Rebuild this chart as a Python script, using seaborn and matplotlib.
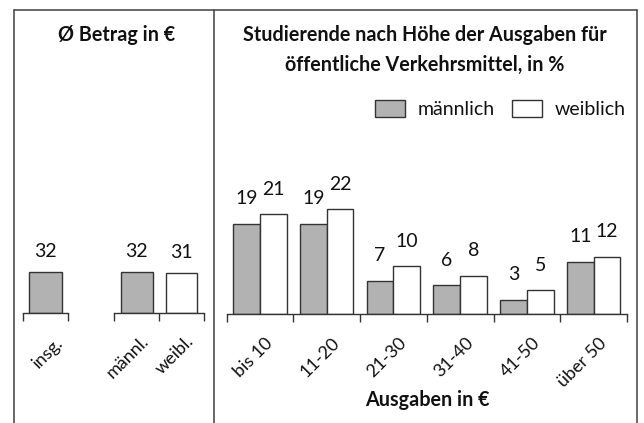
import matplotlib
matplotlib.use("Agg")
import matplotlib.pyplot as plt
import matplotlib.transforms as mtrans
import seaborn as sns
import pandas as pd
from matplotlib.lines import Line2D
from matplotlib.patches import Patch

# ---------------- data ----------------
avg_total_label = ["insg."]
avg_total_value = [32]
avg_gender_labels = ["männl.", "weibl."]
avg_gender_values = [32, 31]

categories = ["bis 10", "11-20", "21-30", "31-40", "41-50", "über 50"]
male_pct = [19, 19, 7, 6, 3, 11]
female_pct = [21, 22, 10, 8, 5, 12]
series_names = ["männlich", "weiblich"]

# ---------------- style ----------------
sns.set_style("white")
plt.rcParams["font.family"] = ["Lato", "DejaVu Sans"]

GRAY = "#b2b2b2"
EDGE = "#333333"
TXT = "#111111"
FS_TICK = 13
FS_VAL = 14
FS_TITLE = 14.2
W, H = 644, 423
DPI = 100
fig = plt.figure(figsize=(W / DPI, H / DPI), dpi=DPI)


def fx(px):
    return px / W


def fy(py):
    return 1 - py / H


def style_axis(ax, n, pad_px, dx_px):
    for s in ["top", "right", "left"]:
        ax.spines[s].set_visible(False)
    ax.spines["bottom"].set_color(EDGE)
    ax.spines["bottom"].set_linewidth(1.0)
    ax.set_yticks([])
    ax.set_xlim(-0.5, n - 0.5)
    ax.set_xticks([i - 0.5 for i in range(n + 1)], minor=True)
    ax.tick_params(axis="x", which="minor", length=6, width=1.0, color=EDGE,
                   direction="out", bottom=True)
    ax.tick_params(axis="x", which="major", length=0, pad=pad_px * 72 / DPI,
                   labelsize=FS_TICK, labelcolor=TXT)
    ax.set_xlabel("")
    ax.set_ylabel("")
    off = mtrans.ScaledTranslation(dx_px / DPI, 0, fig.dpi_scale_trans)
    for lab in ax.get_xticklabels():
        lab.set_rotation(45)
        lab.set_rotation_mode("anchor")
        lab.set_ha("right")
        lab.set_va("center")
        lab.set_transform(lab.get_transform() + off)
    if ax.get_legend() is not None:
        ax.get_legend().remove()


def label_bars(ax, offset):
    for cont in ax.containers:
        for rect in cont:
            h = rect.get_height()
            ax.annotate(f"{h:.0f}", (rect.get_x() + rect.get_width() / 2, h),
                        xytext=(0, offset), textcoords="offset points",
                        ha="center", va="center", fontsize=FS_VAL, color=TXT)


# ---- left panel: total ----
base_l = 313
top_l = 150
ax1 = fig.add_axes([fx(22.7), fy(base_l), fx(68.3 - 22.7), (base_l - top_l) / H])
df1 = pd.DataFrame({"k": avg_total_label, "v": avg_total_value})
sns.barplot(data=df1, x="k", y="v", ax=ax1, color=GRAY, edgecolor=EDGE,
            linewidth=1.0, width=0.73, saturation=1)
ax1.set_ylim(0, (base_l - top_l) / 1.29)
style_axis(ax1, 1, 27, 15)
label_bars(ax1, 14.5)

# ---- left panel: by gender ----
ax2 = fig.add_axes([fx(114.3), fy(base_l), fx(204 - 114.3), (base_l - top_l) / H])
df2 = pd.DataFrame({"k": avg_gender_labels, "v": avg_gender_values})
sns.barplot(data=df2, x="k", y="v", hue="k", ax=ax2,
            palette=[GRAY, "white"], edgecolor=EDGE, linewidth=1.0,
            width=0.71, saturation=1, legend=False)
ax2.set_ylim(0, (base_l - top_l) / 1.29)
style_axis(ax2, 2, 25.5, 10)
label_bars(ax2, 14.5)

# ---- right panel ----
base_r = 314
top_r = 150
ax3 = fig.add_axes([fx(226.5), fy(base_r), fx(627 - 226.5), (base_r - top_r) / H])
df3 = pd.DataFrame({
    "cat": categories * 2,
    "sex": [series_names[0]] * len(categories) + [series_names[1]] * len(categories),
    "pct": male_pct + female_pct,
})
sns.barplot(data=df3, x="cat", y="pct", hue="sex", ax=ax3,
            palette=[GRAY, "white"], edgecolor=EDGE, linewidth=1.0,
            width=0.8, saturation=1, order=categories, hue_order=series_names)
ax3.set_ylim(0, (base_r - top_r) / 4.76)
style_axis(ax3, len(categories), 26.5, 10.5)
label_bars(ax3, 18)

# legend
handles = [Patch(facecolor=GRAY, edgecolor=EDGE, linewidth=1.0),
           Patch(facecolor="white", edgecolor=EDGE, linewidth=1.0)]
fig.legend(handles, series_names, loc="center right",
           bbox_to_anchor=(fx(626), fy(109)), ncol=2, frameon=False,
           fontsize=14, handlelength=1.55, handleheight=0.95,
           handletextpad=0.65, columnspacing=0.9, borderpad=0, borderaxespad=0,
           labelcolor=TXT)

# titles
fig.text(fx(117), fy(35), "Ø Betrag in €", ha="center", va="center",
         fontsize=FS_TITLE, fontweight="bold", color=TXT)
fig.text(fx(425), fy(50), "Studierende nach Höhe der Ausgaben für\nöffentliche Verkehrsmittel, in %",
         ha="center", va="center", fontsize=FS_TITLE, fontweight="bold",
         color=TXT, linespacing=1.6)
fig.text(fx(427), fy(400), "Ausgaben in €", ha="center", va="center",
         fontsize=FS_TITLE, fontweight="bold", color=TXT)

# frame lines
lw = 1.1
for (x0, y0, x1, y1) in [(14, 10, 637, 10), (14, 10, 14, 423),
                         (214, 10, 214, 423), (637, 10, 637, 423)]:
    fig.add_artist(Line2D([fx(x0), fx(x1)], [fy(y0), fy(y1)],
                          color="#404040", linewidth=lw))

fig.savefig("out.png", dpi=DPI)
